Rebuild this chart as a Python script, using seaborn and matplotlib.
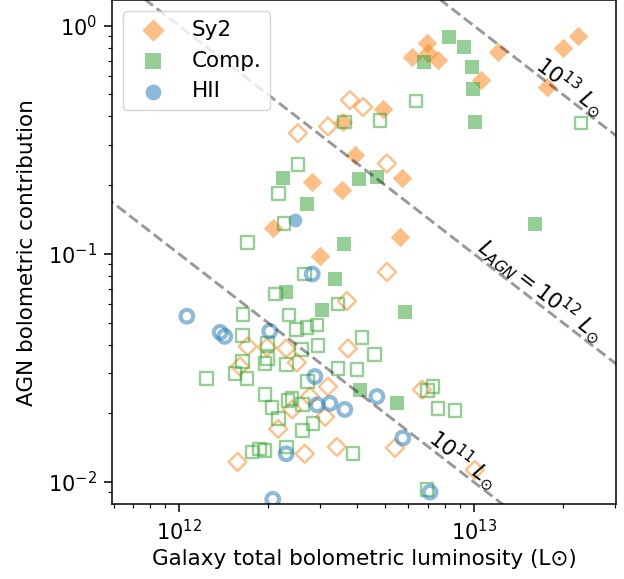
import numpy as np
import matplotlib
matplotlib.use("Agg")
import matplotlib.pyplot as plt
import seaborn as sns

# ── data ──────────────────────────────────────────────────────────────────────
# Sy2, filled diamonds
sy2_fill_x = [6.94e12, 6.17e12, 6.98e12, 7.55e12, 1.21e13, 1.06e13, 2.0e13, 2.25e13,
              1.77e13, 4.92e12, 3.6e12, 3.95e12, 5.7e12, 3.57e12, 2.83e12, 2.08e12,
              3.0e12, 5.6e12]
sy2_fill_y = [0.84, 0.73, 0.76, 0.71, 0.77, 0.58, 0.80, 0.90,
              0.54, 0.43, 0.38, 0.27, 0.214, 0.19, 0.206, 0.130,
              0.098, 0.119]
# Sy2, open diamonds
sy2_open_x = [2.53e12, 3.2e12, 3.8e12, 4.21e12, 5.07e12, 5.07e12, 3.71e12, 3.74e12,
              1.71e12, 1.99e12, 2.31e12, 2.51e12, 1.61e12, 3.2e12, 2.78e12, 2.42e12,
              3.13e12, 2.17e12, 1.58e12, 2.67e12, 3.43e12, 6.67e12, 5.4e12, 1.007e13]
sy2_open_y = [0.338, 0.362, 0.472, 0.44, 0.249, 0.0833, 0.0621, 0.0385,
              0.0393, 0.0389, 0.0385, 0.0334, 0.0321, 0.0262, 0.0237, 0.0208,
              0.0193, 0.0171, 0.01225, 0.0133, 0.01426, 0.0254, 0.0141, 0.0113]
# Composite, filled squares
comp_fill_x = [8.22e12, 9.25e12, 6.78e12, 9.85e12, 9.9e12, 1.01e13, 4.07e12, 4.69e12,
               2.25e12, 2.72e12, 3.62e12, 3.38e12, 2.31e12, 3.05e12, 5.84e12, 4.11e12,
               5.48e12, 1.61e13]
comp_fill_y = [0.895, 0.81, 0.69, 0.66, 0.53, 0.38, 0.212, 0.218,
               0.214, 0.166, 0.111, 0.0776, 0.068, 0.0567, 0.0555, 0.0254,
               0.0223, 0.1356]
# Composite, open squares
comp_open_x = [6.36e12, 2.31e13, 3.65e12, 4.8e12, 2.53e12, 2.17e12, 2.27e12, 1.71e12,
               2.67e12, 2.13e12, 3.46e12, 2.36e12, 1.65e12, 2.51e12, 2.72e12, 2.94e12,
               1.64e12, 2.0e12, 2.96e12, 2.6e12, 4.17e12, 4.61e12, 3.46e12, 4.01e12,
               1.64e12, 1.96e12, 2.0e12, 2.32e12, 1.24e12, 1.55e12, 1.70e12, 2.73e12,
               1.96e12, 2.07e12, 2.17e12, 2.34e12, 2.42e12, 2.63e12, 2.85e12, 2.63e12,
               1.77e12, 1.88e12, 2.32e12, 3.89e12, 7.27e12, 6.98e12, 7.55e12, 8.63e12,
               6.94e12, 1.96e12]
comp_open_y = [0.467, 0.374, 0.378, 0.385, 0.247, 0.184, 0.1356, 0.112,
               0.0816, 0.0667, 0.0602, 0.0539, 0.0544, 0.0467, 0.0477, 0.0487,
               0.044, 0.0405, 0.0397, 0.0381, 0.0431, 0.0363, 0.0315, 0.0311,
               0.0338, 0.0331, 0.0348, 0.0328, 0.0284, 0.0299, 0.0284, 0.0276,
               0.0242, 0.0212, 0.0190, 0.0228, 0.0232, 0.0218, 0.018, 0.0168,
               0.01355, 0.01397, 0.01426, 0.0133, 0.0262, 0.0252, 0.021, 0.0206,
               0.0093, 0.0137]
# HII, filled and open circles
hii_fill_x = [2.47e12]
hii_fill_y = [0.141]
hii_open_x = [1.064e12, 1.38e12, 1.43e12, 2.03e12, 2.83e12, 2.89e12, 2.94e12, 3.25e12,
              3.65e12, 2.31e12, 2.08e12, 4.69e12, 5.74e12, 7.1e12]
hii_open_y = [0.0533, 0.0453, 0.0435, 0.0458, 0.0816, 0.029, 0.0218, 0.0221,
              0.0208, 0.0133, 0.0084, 0.0237, 0.0156, 0.00903]

# constant L_AGN lines and their labels
lagn_levels = [1e11, 1e12, 1e13]
lagn_labels = [r"$10^{11}\ L_{\odot}$", r"$L_{AGN} = 10^{12}\ L_{\odot}$", r"$10^{13}\ L_{\odot}$"]
label_x = [9.2e12, 1.68e13, 2.12e13]
label_y = [0.0126, 0.0695, 0.545]

# ── style ─────────────────────────────────────────────────────────────────────
sns.set_style("ticks", rc={
    "axes.edgecolor": "black", "text.color": "black", "axes.labelcolor": "black",
    "xtick.color": "black", "ytick.color": "black",
    "xtick.direction": "out", "ytick.direction": "out",
})
plt.rcParams.update({
    "font.family": ["DejaVu Sans"],
    "axes.linewidth": 1.1,
    "xtick.major.size": 5.6, "ytick.major.size": 5.6,
    "xtick.minor.size": 3.0, "ytick.minor.size": 3.0,
    "xtick.major.width": 1.1, "ytick.major.width": 1.1,
    "xtick.minor.width": 0.85, "ytick.minor.width": 0.85,
    "xtick.major.pad": 5.0, "ytick.major.pad": 5.0,
    "xtick.labelsize": 15, "ytick.labelsize": 15,
    "mathtext.fontset": "dejavusans",
})

C_SY2 = "#ff7f0e"
C_COMP = "#2ca02c"
C_HII = "#1f77b4"
S = 98
ALPHA = 0.5
LW_OPEN = 1.7

fig = plt.figure(figsize=(6.24, 5.79), dpi=100)
ax = fig.add_axes([0.1795, 0.1295, 0.8075, 0.8697])
ax.set_xscale("log")
ax.set_yscale("log")
XLIM = (5.93e11, 3.03e13)
YLIM = (8.01e-3, 1.29)
ax.set_xlim(*XLIM)
ax.set_ylim(*YLIM)

# filled markers (these carry the legend)
sns.scatterplot(x=sy2_fill_x, y=sy2_fill_y, marker="D", s=S, color=C_SY2,
                alpha=ALPHA, linewidth=0, label="Sy2", ax=ax)
sns.scatterplot(x=comp_fill_x, y=comp_fill_y, marker="s", s=S, color=C_COMP,
                alpha=ALPHA, linewidth=0, label="Comp.", ax=ax)
sns.scatterplot(x=hii_fill_x, y=hii_fill_y, marker="o", s=S, color=C_HII,
                alpha=ALPHA, linewidth=0, label="HII", ax=ax)

# open markers
for xs, ys, m, c in [(sy2_open_x, sy2_open_y, "D", C_SY2),
                     (comp_open_x, comp_open_y, "s", C_COMP),
                     (hii_open_x, hii_open_y, "o", C_HII)]:
    sns.scatterplot(x=xs, y=ys, marker=m, s=S * 0.85, facecolor="none",
                    edgecolor=c, alpha=ALPHA, linewidth=LW_OPEN if m != "o" else 3.0,
                    legend=False, ax=ax)

# dashed lines of constant AGN luminosity
xline = np.logspace(11.5, 13.7, 50)
for L in lagn_levels:
    sns.lineplot(x=xline, y=L / xline, color="k", alpha=0.4, lw=2.1,
                 linestyle="--", ax=ax)

ax.set_xlim(*XLIM)
ax.set_ylim(*YLIM)

# text labels along the lines, rotated to the on-screen slope
p1 = ax.transData.transform((1e12, 1.0))
p2 = ax.transData.transform((1e13, 0.1))
angle = np.degrees(np.arctan2(p2[1] - p1[1], p2[0] - p1[0]))
for tx, ty, t in zip(label_x, label_y, lagn_labels):
    ax.text(tx, ty, t, rotation=angle, rotation_mode="anchor", ha="center",
            va="center", fontsize=15.5)

ax.set_xlabel("Galaxy total bolometric luminosity (L\u2299)", fontsize=15.5)
ax.set_ylabel("AGN bolometric contribution", fontsize=15.5, labelpad=8)
ax.legend(loc="upper left", fontsize=15.5, frameon=True, markerscale=1.15)

fig.savefig("out.png", dpi=100)
